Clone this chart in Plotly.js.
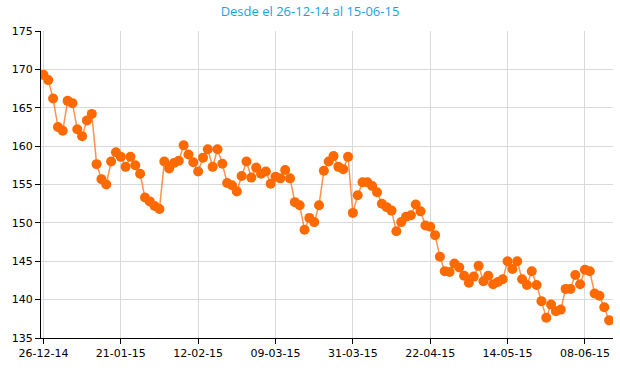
<!DOCTYPE html>
<html>
<head>
<meta charset="utf-8">
<script src="https://cdn.plot.ly/plotly-3.0.1.min.js"></script>
<style>html,body{margin:0;padding:0;background:#fff;}#chart{width:620px;height:375px;}</style>
</head>
<body>
<div id="chart"></div>
<script>
const tickLabels = ["26-12-14","21-01-15","12-02-15","09-03-15","31-03-15","22-04-15","14-05-15","08-06-15"];
const tickPositions = [0,16,32,48,64,80,96,112];
const values = [
169.3,168.6,166.2,162.5,162.0,165.9,165.6,162.2,161.3,163.35,
164.2,157.65,155.7,155.0,158.0,159.2,158.6,157.3,158.6,157.5,
156.4,153.3,152.8,152.2,151.8,158.0,157.1,157.8,158.1,160.1,
158.9,157.9,156.7,158.5,159.6,157.3,159.6,157.7,155.2,154.9,
154.1,156.1,158.0,155.9,157.2,156.4,156.7,155.1,156.0,155.8,
156.9,155.8,152.7,152.3,149.1,150.65,150.1,152.3,156.8,158.0,
158.7,157.3,157.0,158.6,151.3,153.6,155.3,155.3,154.8,154.0,
152.5,152.05,151.6,148.9,150.1,150.8,151.0,152.4,151.5,149.65,
149.5,148.4,145.6,143.7,143.6,144.7,144.2,143.1,142.2,143.0,
144.4,142.4,143.1,142.0,142.3,142.65,145.0,144.0,145.0,142.65,
141.9,143.7,141.9,139.8,137.65,139.35,138.5,138.7,141.4,141.4,
143.2,142.0,143.9,143.7,140.8,140.5,139.0,137.3
];
const xs = values.map((v, i) => i);

const trace = {
  x: xs, y: values, type: 'scatter', mode: 'lines+markers',
  line: {color: 'rgba(255,110,20,0.75)', width: 1.5},
  marker: {color: '#ff6a00', size: 10},
  hoverinfo: 'y'
};
const layout = {
  width: 620, height: 375,
  margin: {l: 41, r: 7, t: 31, b: 37},
  paper_bgcolor: '#fff', plot_bgcolor: '#fff',
  showlegend: false,
  title: {text: 'Desde el 26-12-14 al 15-06-15', x: 0.5, xanchor: 'center', y: 0.97, yanchor: 'middle',
          font: {family: 'Open Sans, DejaVu Sans, sans-serif', size: 13, color: '#1ba1e2'}},
  xaxis: {
    range: [-0.5, 117.8], tickmode: 'array', tickvals: tickPositions, ticktext: tickLabels,
    showgrid: true, gridcolor: '#d9d9d9', gridwidth: 1,
    showline: true, linecolor: '#000', linewidth: 1,
    ticks: 'outside', ticklen: 5, tickcolor: '#000',
    tickfont: {family: 'DejaVu Sans, sans-serif', size: 11, color: '#000'},
    zeroline: false, fixedrange: true
  },
  yaxis: {
    range: [135, 175], dtick: 5, tick0: 135,
    showgrid: true, gridcolor: '#d9d9d9', gridwidth: 1,
    showline: true, linecolor: '#000', linewidth: 1,
    ticks: 'outside', ticklen: 5, tickcolor: '#000',
    tickfont: {family: 'DejaVu Sans, sans-serif', size: 11, color: '#000'},
    zeroline: false, fixedrange: true
  }
};
Plotly.newPlot('chart', [trace], layout, {displayModeBar: false, staticPlot: true});
</script>
</body>
</html>
